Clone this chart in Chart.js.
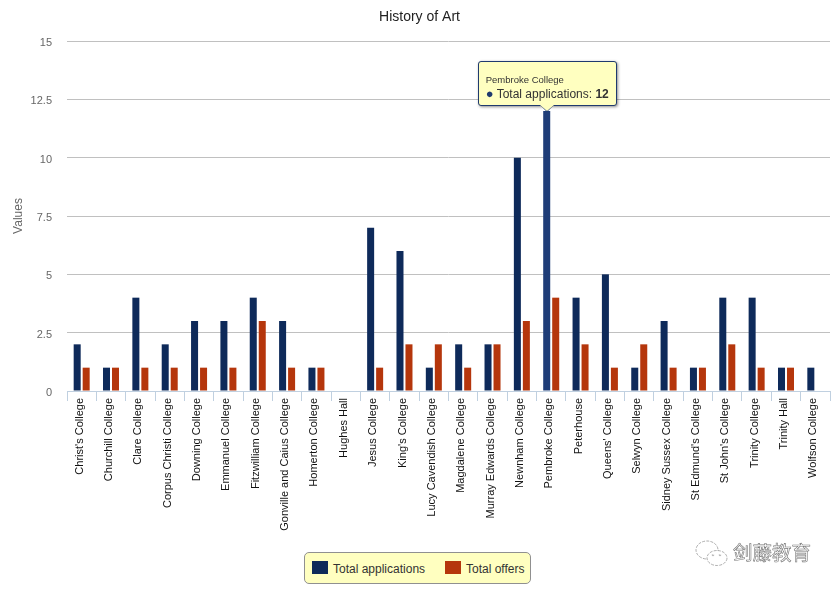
<!DOCTYPE html>
<html>
<head>
<meta charset="utf-8">
<title>History of Art</title>
<script src="https://cdn.jsdelivr.net/npm/chart.js@4"></script>
<style>
    html, body { margin: 0; padding: 0; background: #fff; }
    #wrap { position: relative; width: 839px; height: 590px; overflow: hidden; font-family: "Liberation Sans", Arial, sans-serif; }
    canvas { position: absolute; left: 0; top: 0; }

    #tip { position: absolute; width: 139px; height: 45px; box-sizing: border-box; background: #ffffc0; border: 1px solid #1f3a6e; border-radius: 3px; box-shadow: 1px 1px 3px rgba(0,0,0,.45); color: #333; }
    #tip .t { position: absolute; left: 7px; top: 12px; font-size: 9.5px; white-space: nowrap; }
    #tip .b { position: absolute; left: 7px; top: 25px; font-size: 12px; white-space: nowrap; }
    #tip .dot { color: #1f3a6e; font-size: 13px; line-height: 12px; }
    #tipArrow, #tipArrowLine { position: absolute; width: 0; height: 0; border-left: 7px solid transparent; border-right: 7px solid transparent; }
    #tipArrowLine { border-top: 7px solid #1f3a6e; }
    #tipArrow { border-top: 6px solid #ffffc0; }

    #legend { position: absolute; left: 304px; top: 552px; width: 227px; height: 32px; box-sizing: border-box; background: #ffffc0; border: 1px solid #909090; border-radius: 5px; font-size: 12px; color: #333; }
    #legend .sw { position: absolute; top: 8px; width: 16px; height: 13px; }
    #legend .lb { position: absolute; top: 9px; white-space: nowrap; }

    #mark { position: absolute; left: 733px; top: 537px; font: 19.5px "Noto Sans CJK SC"; color: #fff; -webkit-text-stroke: .6px #777; white-space: nowrap; }
    #wechat { position: absolute; left: 695px; top: 540px; }
</style>
</head>
<body>
<div id="wrap">
    <canvas id="myChart" width="839" height="590"></canvas>
    <div id="tipArrowLine"></div>
    <div id="tip"><div class="t"></div><div class="b"></div></div>
    <div id="tipArrow"></div>
    <div id="legend"></div>
    <svg id="wechat" width="33" height="27" viewBox="0 0 33 27" fill="#fff" stroke="#999" stroke-width=".8" stroke-dasharray="3 1.2">
        <ellipse cx="12" cy="10" rx="11" ry="9"/>
        <ellipse cx="22" cy="18" rx="10" ry="7.5"/>
        <circle cx="18" cy="15" r=".8"/>
        <circle cx="25" cy="15" r=".8"/>
    </svg>
    <div id="mark">剑藤教育</div>
</div>

<script>
var chartTitle = "History of Art"
var yTitle = "Values"

var categories = ["Christ's College", "Churchill College", "Clare College", "Corpus Christi College",
    "Downing College", "Emmanuel College", "Fitzwilliam College", "Gonville and Caius College",
    "Homerton College", "Hughes Hall", "Jesus College", "King's College", "Lucy Cavendish College",
    "Magdalene College", "Murray Edwards College", "Newnham College", "Pembroke College", "Peterhouse",
    "Queens' College", "Selwyn College", "Sidney Sussex College", "St Edmund's College",
    "St John's College", "Trinity College", "Trinity Hall", "Wolfson College"]

var totalApplications = [2, 1, 4, 2, 3, 3, 4, 3, 1, null, 7, 6, 1, 2, 2, 10, 12, 4, 5, 1, 3, 1, 4, 4, 1, 1]
var totalOffers = [1, 1, 1, 1, 1, 1, 3, 1, 1, null, 1, 2, 2, 1, 2, 3, 4, 2, 1, 2, 1, 1, 2, 1, 1, null]

var seriesNames = ["Total applications", "Total offers"]
var seriesColors = ["#0e2a5a", "#b5360c"]
var hoverColor = "#1f3d78"

var yMax = 15
var yStep = 2.5
var hoveredIndex = categories.indexOf("Pembroke College")

// title is centred on the whole canvas, not on the plot
var centreTitle = {
    id: "centreTitle",
    afterLayout: function (chart) {
        chart.titleBlock.right = chart.width
    }
}

function showTip(context) {
    var tt = context.tooltip
    if (!tt.dataPoints || !tt.dataPoints.length) return
    var tip = document.getElementById("tip")
    var arrow = document.getElementById("tipArrow")
    var line = document.getElementById("tipArrowLine")
    var p = tt.dataPoints[0]

    tip.querySelector(".t").textContent = p.label
    tip.querySelector(".b").innerHTML = '<span class="dot">●</span> ' + p.dataset.label + ': <b>' + p.formattedValue + '</b>'

    tip.style.left = (tt.caretX - 69) + "px"
    tip.style.top = (tt.caretY - 50) + "px"
    line.style.left = (tt.caretX - 7) + "px"
    line.style.top = (tt.caretY - 6) + "px"
    arrow.style.left = (tt.caretX - 7) + "px"
    arrow.style.top = (tt.caretY - 6.5) + "px"
}

function createLegend() {
    var box = document.getElementById("legend")
    var swatchLeft = [7, 140]
    var labelLeft = [28, 161]
    seriesNames.forEach(function (name, i) {
        box.innerHTML += '<div class="sw" style="left:' + swatchLeft[i] + 'px;background:' + seriesColors[i] + '"></div>'
            + '<div class="lb" style="left:' + labelLeft[i] + 'px">' + name + '</div>'
    })
}

function createChart() {
    var ctx = document.getElementById("myChart")
    var font = "'Liberation Sans', Arial, sans-serif"

    var chart = new Chart(ctx, {
        type: "bar",
        data: {
            labels: categories,
            datasets: [{
                label: seriesNames[0],
                data: totalApplications,
                backgroundColor: seriesColors[0],
                hoverBackgroundColor: hoverColor,
                hoverBorderWidth: 0
            }, {
                label: seriesNames[1],
                data: totalOffers,
                backgroundColor: seriesColors[1]
            }]
        },
        plugins: [centreTitle],
        options: {
            responsive: false,
            animation: false,
            events: [],
            categoryPercentage: 0.613,
            barPercentage: 0.78,
            layout: { padding: { left: 0, right: 9, top: 0, bottom: 0 } },
            plugins: {
                legend: { display: false },
                title: {
                    display: true,
                    text: chartTitle,
                    color: "#222",
                    font: { family: font, size: 14, weight: "normal" },
                    padding: { top: 9, bottom: 15.2 }
                },
                tooltip: { enabled: false, external: showTip, mode: "nearest" }
            },
            scales: {
                x: {
                    afterFit: function (scale) { scale.height = 199 },
                    border: { color: "#c0d0e0" },
                    grid: { drawOnChartArea: false, drawTicks: true, tickLength: 10, tickColor: "#c0d0e0" },
                    ticks: {
                        autoSkip: false,
                        minRotation: 90,
                        maxRotation: 90,
                        padding: -3,
                        labelOffset: -2,
                        color: "#111",
                        font: { family: font, size: 11 }
                    }
                },
                y: {
                    min: 0,
                    max: yMax,
                    afterFit: function (scale) { scale.width = 67 },
                    border: { display: false },
                    grid: { color: "#c0c0c0", drawTicks: false },
                    title: {
                        display: true,
                        text: yTitle,
                        color: "#666",
                        font: { family: font, size: 12 },
                        padding: { top: 11, bottom: 0 }
                    },
                    ticks: {
                        stepSize: yStep,
                        padding: 15,
                        labelOffset: 2,
                        color: "#666",
                        font: { family: font, size: 11 }
                    }
                }
            }
        }
    })

    var active = [{ datasetIndex: 0, index: hoveredIndex }]
    chart.setActiveElements(active)
    chart.tooltip.setActiveElements(active, { x: 0, y: 0 })
    chart.update()
}

createLegend()
createChart()
</script>
</body>
</html>
